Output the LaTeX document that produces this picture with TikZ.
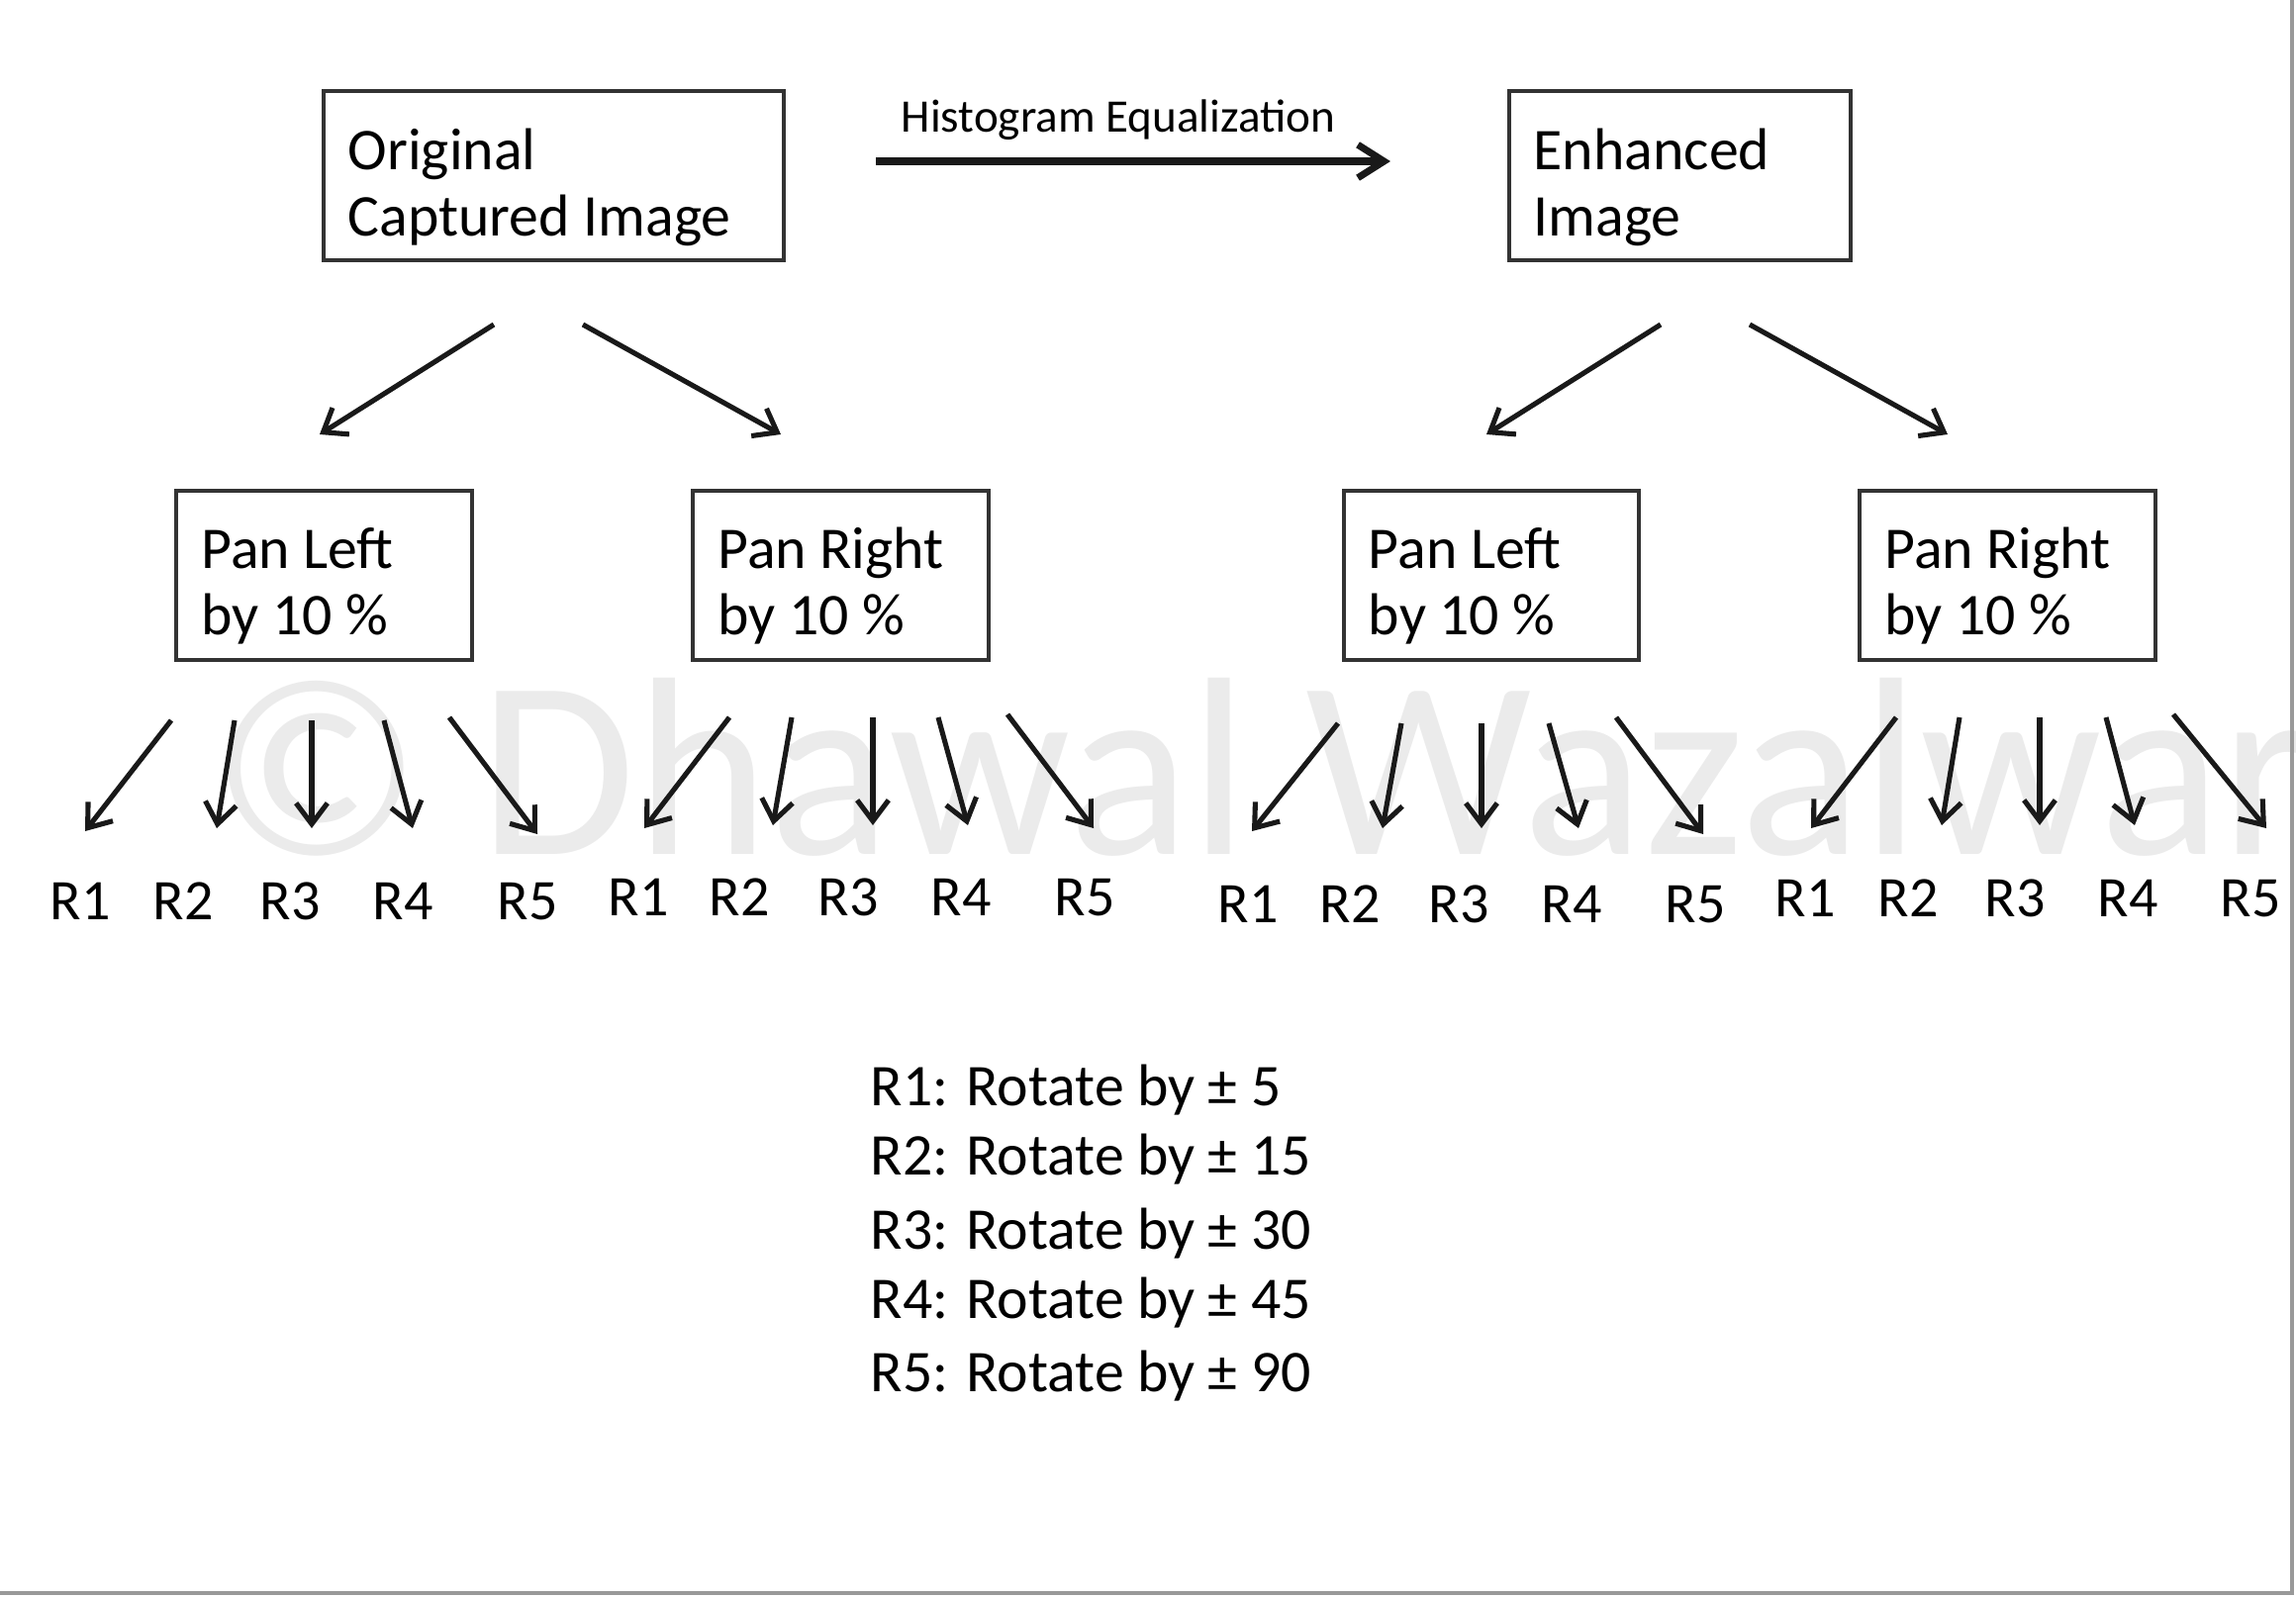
\documentclass[tikz,border=0pt]{standalone}
\usepackage{fontspec}
\setmainfont{Carlito}
\usetikzlibrary{arrows.meta}
\begin{document}
\begin{tikzpicture}[x=0.01cm,y=-0.01cm,
  box/.style={draw=black!80, line width=1.1pt, inner xsep=7.1pt, inner ysep=0pt,
    minimum height=1.71cm, align=left, font=\fontsize{17}{19}\selectfont,
    execute at begin node={\spaceskip=0pt\xspaceskip=0pt\relax}},
  arr/.style={line width=1.45pt, draw=black!90, -{Straight Barb[length=6pt,width=9pt]}},
  harr/.style={line width=2pt, draw=black!90, -{Straight Barb[length=7.5pt,width=9.5pt]}},
  rlab/.style={inner sep=0pt, font=\fontsize{16.5}{18}\selectfont},
  leg/.style={inner sep=0pt, anchor=west, font=\fontsize{17}{19}\selectfont},
  wm/.style={inner sep=0pt, text=black!8, font=\fontsize{73}{73}\selectfont}
]
\fill[white] (0,0) rectangle (2320,1614);
\useasboundingbox (0,0) rectangle (2320,1614);

% watermark
\node[wm, anchor=base west] (wmark) at (212,863) {© Dhawal Wazalwar};

% frame edges
\coordinate (fr1) at (2316,0);
\coordinate (fr2) at (2316,1610);
\coordinate (fr3) at (0,1610);
\draw[line width=1.2pt, draw=black!40] (fr1) -- (fr2) -- (fr3);

% boxes
\node[box, text width=118.1pt] (orig) at (559.5,177.5) {\rule{0pt}{18.4pt}Original\\Captured Image};
\node[box, text width=84pt] (enh) at (1697.5,177.5) {\rule{0pt}{18.4pt}Enhanced\\Image};
\node[box, text width=70.6pt] (pl1) at (327.5,581.5) {\rule{0pt}{17.8pt}Pan Left\\by 10 \%};
\node[box, text width=70.6pt] (pr1) at (849.5,581.5) {\rule{0pt}{17.8pt}Pan Right\\by 10 \%};
\node[box, text width=70.6pt] (pl2) at (1507,581.5) {\rule{0pt}{17.8pt}Pan Left\\by 10 \%};
\node[box, text width=70.6pt] (pr2) at (2028.5,581.5) {\rule{0pt}{17.8pt}Pan Right\\by 10 \%};

% histogram equalization arrow
\coordinate (hs) at (885,163);
\coordinate (he) at (1405,163);
\draw[harr] (hs) -- (he);
\node[inner sep=0pt, font=\fontsize{13.4}{15}\selectfont] (hlab) at (1130,121) {Histogram Equalization};

% big arrows
\foreach \n/\sx/\sy/\ex/\ey in {ol/499/328/323/439, or/589/328/789/439,
                                 el/1678/328/1502/439, er/1768/328/1968/439}{
  \coordinate (bs\n) at (\sx,\sy);
  \coordinate (be\n) at (\ex,\ey);
  \draw[arr] (bs\n) -- (be\n);
}

% small arrows
\foreach \n/\sx/\sy/\ex/\ey in {
  a1/173/728/86/840, a2/237/728/219/837, a3/315/728/315/837, a4/388/728/417/837, a5/454/725/543/843,
  b1/737/725/651/837, b2/800/725/781/834, b3/882/725/882/834, b4/948/725/978/834, b5/1018/722/1105/837,
  c1/1352/731/1265/840, c2/1416/731/1397/837, c3/1497/731/1497/837, c4/1565/731/1595/837, c5/1633/725/1721/843,
  d1/1916/725/1830/837, d2/1980/725/1962/834, d3/2061/725/2061/834, d4/2128/725/2157/834, d5/2196/722/2290/837}{
  \coordinate (ss\n) at (\sx,\sy);
  \coordinate (se\n) at (\ex,\ey);
  \draw[arr] (ss\n) -- (se\n);
}

% R labels
\foreach \n/\x/\y/\t in {
  a1/81/911/R1, a2/185/911/R2, a3/293/911/R3, a4/407/911/R4, a5/533/911/R5,
  b1/645/907/R1, b2/747/907/R2, b3/857/907/R3, b4/971/907/R4, b5/1096/907/R5,
  c1/1261/914/R1, c2/1364/914/R2, c3/1474/914/R3, c4/1588/914/R4, c5/1713/914/R5,
  d1/1824/908/R1, d2/1928/908/R2, d3/2036/908/R3, d4/2150/908/R4, d5/2274/908/R5}{
  \node[rlab] (lab\n) at (\x,\y) {\t};
}

% legend
\node[leg] (leg1) at (879,1102) {R1: Rotate by ± 5};
\node[leg] (leg2) at (879,1172) {R2: Rotate by ± 15};
\node[leg] (leg3) at (879,1247) {R3: Rotate by ± 30};
\node[leg] (leg4) at (879,1317) {R4: Rotate by ± 45};
\node[leg] (leg5) at (879,1391) {R5: Rotate by ± 90};
\end{tikzpicture}
\end{document}
